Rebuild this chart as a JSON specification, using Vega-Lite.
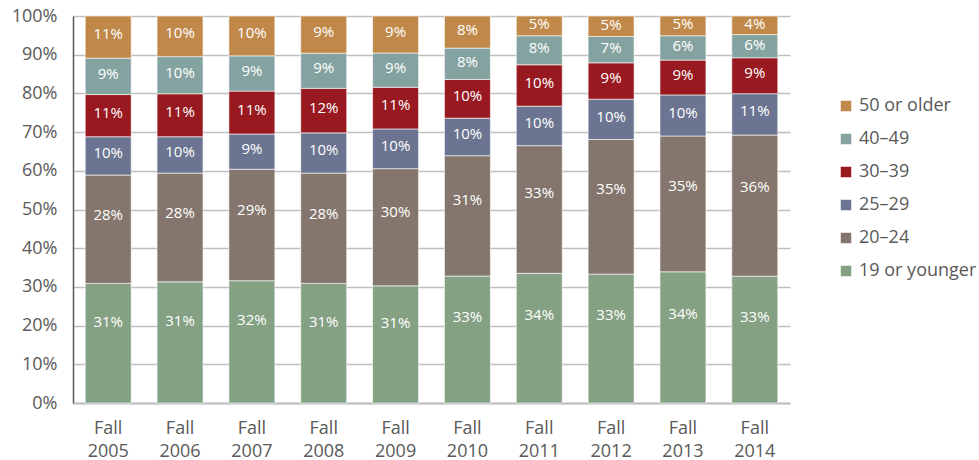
{
  "$schema": "https://vega.github.io/schema/vega-lite/v6.json",
  "width": 717,
  "height": 387,
  "autosize": {"type": "none"},
  "padding": {"left": 73, "top": 16, "right": 189, "bottom": 57},
  "background": "white",
  "config": {
    "font": "Open Sans",
    "view": {"stroke": null}
  },
  "data": {
    "values": [
      {"year": "Fall 2005", "group": "19 or younger", "rank": 1, "value": 30.9, "label": "31%"},
      {"year": "Fall 2005", "group": "20–24", "rank": 2, "value": 28.0, "label": "28%"},
      {"year": "Fall 2005", "group": "25–29", "rank": 3, "value": 9.9, "label": "10%"},
      {"year": "Fall 2005", "group": "30–39", "rank": 4, "value": 10.9, "label": "11%"},
      {"year": "Fall 2005", "group": "40–49", "rank": 5, "value": 9.4, "label": "9%"},
      {"year": "Fall 2005", "group": "50 or older", "rank": 6, "value": 10.9, "label": "11%"},
      {"year": "Fall 2006", "group": "19 or younger", "rank": 1, "value": 31.3, "label": "31%"},
      {"year": "Fall 2006", "group": "20–24", "rank": 2, "value": 28.1, "label": "28%"},
      {"year": "Fall 2006", "group": "25–29", "rank": 3, "value": 9.4, "label": "10%"},
      {"year": "Fall 2006", "group": "30–39", "rank": 4, "value": 11.1, "label": "11%"},
      {"year": "Fall 2006", "group": "40–49", "rank": 5, "value": 9.6, "label": "10%"},
      {"year": "Fall 2006", "group": "50 or older", "rank": 6, "value": 10.5, "label": "10%"},
      {"year": "Fall 2007", "group": "19 or younger", "rank": 1, "value": 31.6, "label": "32%"},
      {"year": "Fall 2007", "group": "20–24", "rank": 2, "value": 28.8, "label": "29%"},
      {"year": "Fall 2007", "group": "25–29", "rank": 3, "value": 9.1, "label": "9%"},
      {"year": "Fall 2007", "group": "30–39", "rank": 4, "value": 11.1, "label": "11%"},
      {"year": "Fall 2007", "group": "40–49", "rank": 5, "value": 9.1, "label": "9%"},
      {"year": "Fall 2007", "group": "50 or older", "rank": 6, "value": 10.3, "label": "10%"},
      {"year": "Fall 2008", "group": "19 or younger", "rank": 1, "value": 30.9, "label": "31%"},
      {"year": "Fall 2008", "group": "20–24", "rank": 2, "value": 28.5, "label": "28%"},
      {"year": "Fall 2008", "group": "25–29", "rank": 3, "value": 10.4, "label": "10%"},
      {"year": "Fall 2008", "group": "30–39", "rank": 4, "value": 11.5, "label": "12%"},
      {"year": "Fall 2008", "group": "40–49", "rank": 5, "value": 9.1, "label": "9%"},
      {"year": "Fall 2008", "group": "50 or older", "rank": 6, "value": 9.6, "label": "9%"},
      {"year": "Fall 2009", "group": "19 or younger", "rank": 1, "value": 30.4, "label": "31%"},
      {"year": "Fall 2009", "group": "20–24", "rank": 2, "value": 30.4, "label": "30%"},
      {"year": "Fall 2009", "group": "25–29", "rank": 3, "value": 10.3, "label": "10%"},
      {"year": "Fall 2009", "group": "30–39", "rank": 4, "value": 10.8, "label": "11%"},
      {"year": "Fall 2009", "group": "40–49", "rank": 5, "value": 8.9, "label": "9%"},
      {"year": "Fall 2009", "group": "50 or older", "rank": 6, "value": 9.6, "label": "9%"},
      {"year": "Fall 2010", "group": "19 or younger", "rank": 1, "value": 32.8, "label": "33%"},
      {"year": "Fall 2010", "group": "20–24", "rank": 2, "value": 31.1, "label": "31%"},
      {"year": "Fall 2010", "group": "25–29", "rank": 3, "value": 9.7, "label": "10%"},
      {"year": "Fall 2010", "group": "30–39", "rank": 4, "value": 10.0, "label": "10%"},
      {"year": "Fall 2010", "group": "40–49", "rank": 5, "value": 8.1, "label": "8%"},
      {"year": "Fall 2010", "group": "50 or older", "rank": 6, "value": 8.3, "label": "8%"},
      {"year": "Fall 2011", "group": "19 or younger", "rank": 1, "value": 33.5, "label": "34%"},
      {"year": "Fall 2011", "group": "20–24", "rank": 2, "value": 33.0, "label": "33%"},
      {"year": "Fall 2011", "group": "25–29", "rank": 3, "value": 10.2, "label": "10%"},
      {"year": "Fall 2011", "group": "30–39", "rank": 4, "value": 10.7, "label": "10%"},
      {"year": "Fall 2011", "group": "40–49", "rank": 5, "value": 7.5, "label": "8%"},
      {"year": "Fall 2011", "group": "50 or older", "rank": 6, "value": 5.1, "label": "5%"},
      {"year": "Fall 2012", "group": "19 or younger", "rank": 1, "value": 33.3, "label": "33%"},
      {"year": "Fall 2012", "group": "20–24", "rank": 2, "value": 34.8, "label": "35%"},
      {"year": "Fall 2012", "group": "25–29", "rank": 3, "value": 10.4, "label": "10%"},
      {"year": "Fall 2012", "group": "30–39", "rank": 4, "value": 9.4, "label": "9%"},
      {"year": "Fall 2012", "group": "40–49", "rank": 5, "value": 6.8, "label": "7%"},
      {"year": "Fall 2012", "group": "50 or older", "rank": 6, "value": 5.3, "label": "5%"},
      {"year": "Fall 2013", "group": "19 or younger", "rank": 1, "value": 33.9, "label": "34%"},
      {"year": "Fall 2013", "group": "20–24", "rank": 2, "value": 35.1, "label": "35%"},
      {"year": "Fall 2013", "group": "25–29", "rank": 3, "value": 10.6, "label": "10%"},
      {"year": "Fall 2013", "group": "30–39", "rank": 4, "value": 9.0, "label": "9%"},
      {"year": "Fall 2013", "group": "40–49", "rank": 5, "value": 6.3, "label": "6%"},
      {"year": "Fall 2013", "group": "50 or older", "rank": 6, "value": 5.1, "label": "5%"},
      {"year": "Fall 2014", "group": "19 or younger", "rank": 1, "value": 32.8, "label": "33%"},
      {"year": "Fall 2014", "group": "20–24", "rank": 2, "value": 36.5, "label": "36%"},
      {"year": "Fall 2014", "group": "25–29", "rank": 3, "value": 10.7, "label": "11%"},
      {"year": "Fall 2014", "group": "30–39", "rank": 4, "value": 9.3, "label": "9%"},
      {"year": "Fall 2014", "group": "40–49", "rank": 5, "value": 6.0, "label": "6%"},
      {"year": "Fall 2014", "group": "50 or older", "rank": 6, "value": 4.8, "label": "4%"}
    ]
  },
  "encoding": {
    "x": {
      "field": "year",
      "type": "nominal",
      "scale": {"paddingInner": 0.36, "paddingOuter": 0.17},
      "axis": {
        "title": null,
        "labelAngle": 0,
        "labelExpr": "split(datum.label, ' ')",
        "labelFontSize": 18,
        "labelLineHeight": 23,
        "labelColor": "#595959",
        "labelPadding": 16,
        "ticks": false,
        "domainColor": "#BFBFBF",
        "domainWidth": 2
      }
    },
    "y": {
      "field": "value",
      "type": "quantitative",
      "stack": "normalize",
      "scale": {"domain": [0, 1], "nice": false},
      "axis": {
        "title": null,
        "format": ".0%",
        "values": [0, 0.1, 0.2, 0.3, 0.4, 0.5, 0.6, 0.7, 0.8, 0.9, 1],
        "labelFontSize": 18,
        "labelColor": "#595959",
        "labelPadding": 16,
        "ticks": false,
        "domainColor": "#595959",
        "domainWidth": 1.5,
        "gridColor": "#BFBFBF",
        "gridWidth": 1.5
      }
    },
    "order": {"field": "rank", "type": "quantitative"}
  },
  "layer": [
    {
      "mark": {"type": "bar", "stroke": "white", "strokeWidth": 0.6},
      "encoding": {
        "color": {
          "field": "group",
          "type": "nominal",
          "scale": {
            "domain": ["50 or older", "40–49", "30–39", "25–29", "20–24", "19 or younger"],
            "range": ["#C0894A", "#84A3A0", "#98191F", "#6B7490", "#84766C", "#84A183"]
          },
          "legend": {
            "title": null,
            "orient": "none",
            "legendX": 764,
            "legendY": 81,
            "symbolType": "square",
            "symbolSize": 110,
            "symbolStrokeWidth": 0,
            "labelFontSize": 18,
            "labelColor": "#595959",
            "labelOffset": 4,
            "rowPadding": 15
          }
        }
      }
    },
    {
      "mark": {"type": "text", "color": "white", "fontSize": 15, "baseline": "middle", "align": "center"},
      "encoding": {
        "y": {"field": "value", "type": "quantitative", "stack": "normalize", "bandPosition": 0.68},
        "text": {"condition": {"test": "datum.rank == 1", "field": "label", "type": "nominal"}, "value": ""}
      }
    },
    {
      "mark": {"type": "text", "color": "white", "fontSize": 15, "baseline": "middle", "align": "center"},
      "encoding": {
        "y": {"field": "value", "type": "quantitative", "stack": "normalize", "bandPosition": 0.63},
        "text": {"condition": {"test": "datum.rank == 2", "field": "label", "type": "nominal"}, "value": ""}
      }
    },
    {
      "mark": {"type": "text", "color": "white", "fontSize": 15, "baseline": "middle", "align": "center"},
      "encoding": {
        "y": {"field": "value", "type": "quantitative", "stack": "normalize", "bandPosition": 0.57},
        "text": {"condition": {"test": "datum.rank > 2", "field": "label", "type": "nominal"}, "value": ""}
      }
    }
  ]
}
